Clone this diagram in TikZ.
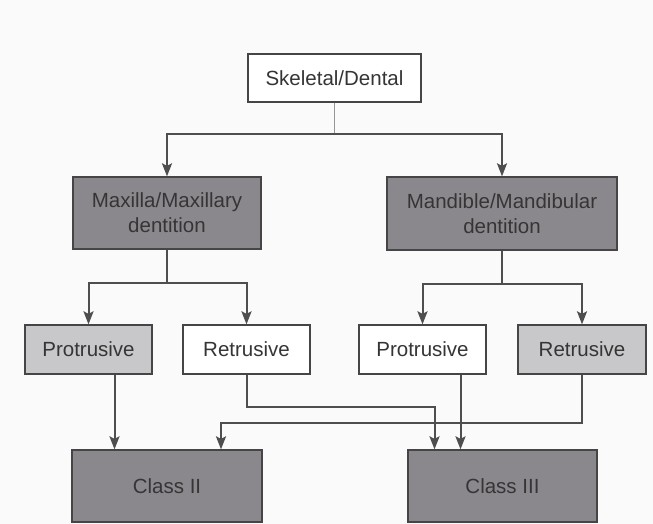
\documentclass[tikz,border=0pt]{standalone}
\usepackage{fontspec}
\setmainfont{Liberation Sans}
\usetikzlibrary{positioning, arrows.meta, calc}

\definecolor{bggray}{HTML}{FAFAFA}
\definecolor{boxdark}{HTML}{8A888C}
\definecolor{boxlight}{HTML}{C8C7C9}
\definecolor{edgegray}{HTML}{454545}
\definecolor{linegray}{HTML}{4E4E4E}
\definecolor{textgray}{HTML}{353535}

\begin{document}
\begin{tikzpicture}[
                x=1pt, y=-1pt,
                >={Stealth[length=13pt, width=10pt, inset=2.5pt]},
                link/.style={->, draw=linegray, line width=2pt},
                box/.style={rectangle, draw=edgegray, line width=1.3pt, text=textgray,
                    font=\fontsize{20.5}{25}\selectfont, align=center, inner sep=0pt},
                darkbox/.style={box, fill=boxdark},
                lightbox/.style={box, fill=boxlight},
                plainbox/.style={box, fill=white},
            ]

                % Page background
                \fill[bggray] (0,0) rectangle (653,524);
                \useasboundingbox (0,0) rectangle (653,524);

                % Top of the tree
                \node[plainbox, minimum width=173pt, minimum height=48pt] (skel) at (334.5,78) {Skeletal/Dental};

                % Jaw level
                \node[darkbox, minimum width=188pt, minimum height=72pt] (maxilla) at (167,213) {Maxilla/Maxillary\\dentition};
                \node[darkbox, minimum width=230pt, minimum height=73pt] (mandible) at (502,213.5) {Mandible/Mandibular\\dentition};

                % Protrusive / retrusive level
                \node[lightbox, minimum width=127pt, minimum height=49pt] (prot1) at (88.5,349.5) {Protrusive};
                \node[plainbox, minimum width=127pt, minimum height=49pt] (retr1) at (246.5,349.5) {Retrusive};
                \node[plainbox, minimum width=127pt, minimum height=49pt] (prot2) at (422.5,349.5) {Protrusive};
                \node[lightbox, minimum width=128pt, minimum height=49pt] (retr2) at (582,349.5) {Retrusive};

                % Classes at the bottom
                \node[darkbox, minimum width=190pt, minimum height=72pt] (class2) at (167,486) {Class II};
                \node[darkbox, minimum width=189pt, minimum height=72pt] (class3) at (502.5,486) {Class III};

                % Skeletal/Dental splits into the two jaws
                \coordinate (split) at (334.5,134);
                \draw[draw=linegray!60, line width=0.8pt] (skel.south) -- (split);
                \draw[link] (split) -| (maxilla.north);
                \draw[link] (split) -| (mandible.north);

                % Each jaw splits into protrusive and retrusive
                \draw[link] (maxilla.south) -- ++(0,33) -| (prot1.north);
                \draw[link] (maxilla.south) -- ++(0,33) -| (retr1.north);
                \draw[link] (mandible.south) -- ++(0,33) -| (prot2.north);
                \draw[link] (mandible.south) -- ++(0,33) -| (retr2.north);

                % Down to the classes
                \draw[link] ([xshift=26pt]prot1.south) -- ([xshift=26pt]prot1.south |- class2.north);
                \draw[link] (retr1.south) -- ++(0,32) -| ([xshift=-68pt]class3.north);
                \draw[link] ([xshift=38pt]prot2.south) -- ([xshift=38pt]prot2.south |- class3.north);
                \draw[link] (retr2.south) -- ++(0,48) -| ([xshift=54pt]class2.north);
            \end{tikzpicture}
\end{document}
